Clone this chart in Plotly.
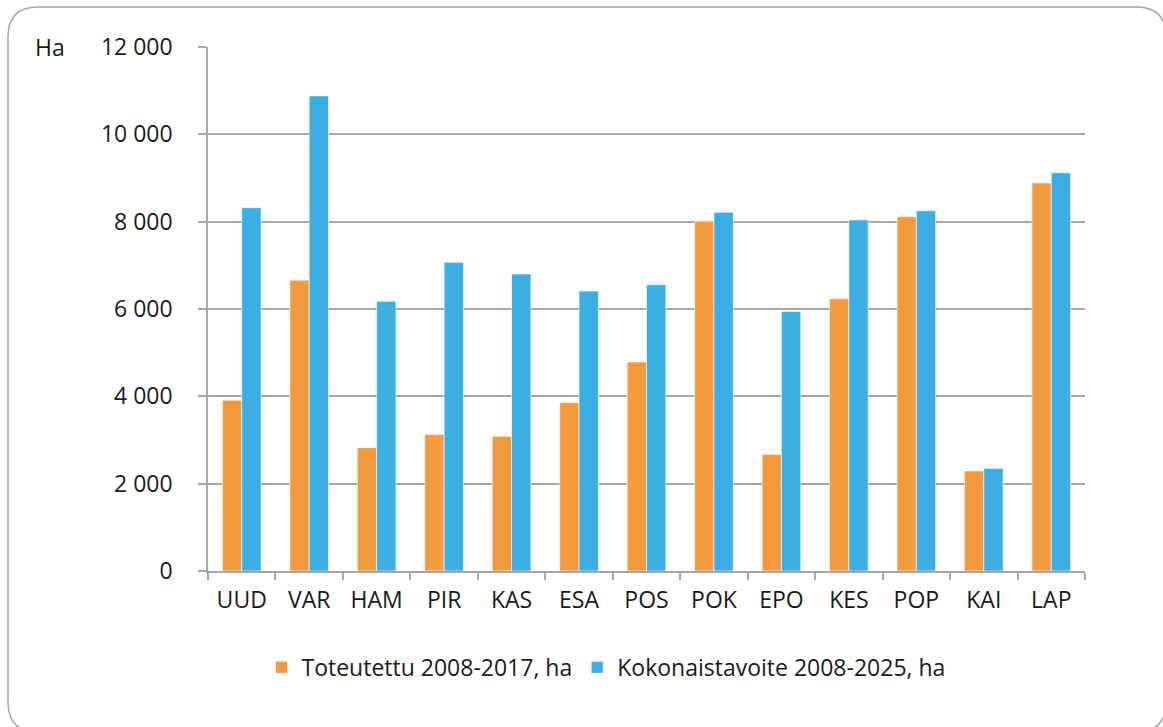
import plotly.graph_objects as go

categories = ["UUD", "VAR", "HAM", "PIR", "KAS", "ESA", "POS", "POK", "EPO", "KES", "POP", "KAI", "LAP"]
toteutettu = [3910, 6660, 2825, 3125, 3085, 3855, 4785, 8010, 2670, 6235, 8115, 2290, 8885]
tavoite = [8320, 10880, 6175, 7070, 6800, 6410, 6555, 8215, 5945, 8040, 8250, 2350, 9120]
y_ticks = [0, 2000, 4000, 6000, 8000, 10000, 12000]
series_names = ["Toteutettu 2008-2017, ha", "Kokonaistavoite 2008-2025, ha"]

ORANGE = "#F39A3F"
BLUE = "#3BAEE3"
GRID = "#A6A6A6"
TEXT = "#1a1a1a"
FONT = "Open Sans"

fig = go.Figure()
fig.add_trace(go.Bar(x=categories, y=toteutettu, name=series_names[0],
                     marker=dict(color=ORANGE, line=dict(color="rgba(255,255,255,0.6)", width=1))))
fig.add_trace(go.Bar(x=categories, y=tavoite, name=series_names[1],
                     marker=dict(color=BLUE, line=dict(color="rgba(255,255,255,0.6)", width=1))))

W, H = 1163, 727
L, R, T, B = 208, 78, 47, 156

fig.update_layout(
    width=W, height=H,
    margin=dict(l=L, r=R, t=T, b=B, pad=0),
    paper_bgcolor="white", plot_bgcolor="white",
    font=dict(family=FONT, size=23, color=TEXT),
    barmode="group", bargap=0.427, bargroupgap=0,
    separators=", ",
    showlegend=True,
    legend=dict(orientation="h", x=0.061, xanchor="left", y=-0.184, yanchor="middle",
                font=dict(family=FONT, size=23, color=TEXT), traceorder="normal",
                bgcolor="rgba(0,0,0,0)", borderwidth=0),
    xaxis=dict(type="category", showline=True, linecolor=GRID, linewidth=1.5,
               ticks="outside", tickson="boundaries", ticklen=7, tickcolor=GRID, tickwidth=1.5,
               showgrid=False, tickfont=dict(family=FONT, size=23, color=TEXT),
               ticklabelstandoff=8),
    yaxis=dict(range=[0, 12000], tickvals=y_ticks, tickformat=",d",
               showline=True, linecolor=GRID, linewidth=1.5,
               ticks="outside", ticklen=8, tickcolor=GRID, tickwidth=1.5,
               showgrid=True, gridcolor=GRID, gridwidth=1.5, zeroline=False,
               tickfont=dict(family=FONT, size=23, color=TEXT), ticklabelstandoff=21),
)

fig.add_annotation(text="Ha", xref="paper", yref="paper", x=-(L - 33) / (W - L - R), xanchor="left",
                   y=1.0, yanchor="middle", showarrow=False,
                   font=dict(family=FONT, size=23, color=TEXT))

# outer rounded border (pixel coordinates converted to paper)
pw, ph = W - L - R, H - T - B
def px(x):
    return (x - L) / pw
def py(y):
    return 1 - (y - T) / ph
x0, y0, x1, y1, r = 8, 7, 1166, 732, 30
path = (f"M {px(x0 + r)},{py(y0)} L {px(x1 - r)},{py(y0)} "
        f"Q {px(x1)},{py(y0)} {px(x1)},{py(y0 + r)} L {px(x1)},{py(y1 - r)} "
        f"Q {px(x1)},{py(y1)} {px(x1 - r)},{py(y1)} L {px(x0 + r)},{py(y1)} "
        f"Q {px(x0)},{py(y1)} {px(x0)},{py(y1 - r)} L {px(x0)},{py(y0 + r)} "
        f"Q {px(x0)},{py(y0)} {px(x0 + r)},{py(y0)} Z")
fig.add_shape(type="path", path=path, xref="paper", yref="paper",
              line=dict(color=GRID, width=1.5), fillcolor="rgba(0,0,0,0)", layer="below")

fig.write_html("out.html", config={"displayModeBar": False},
               post_script="document.body.style.margin='0';document.body.style.padding='0';document.body.style.overflow='hidden';")
